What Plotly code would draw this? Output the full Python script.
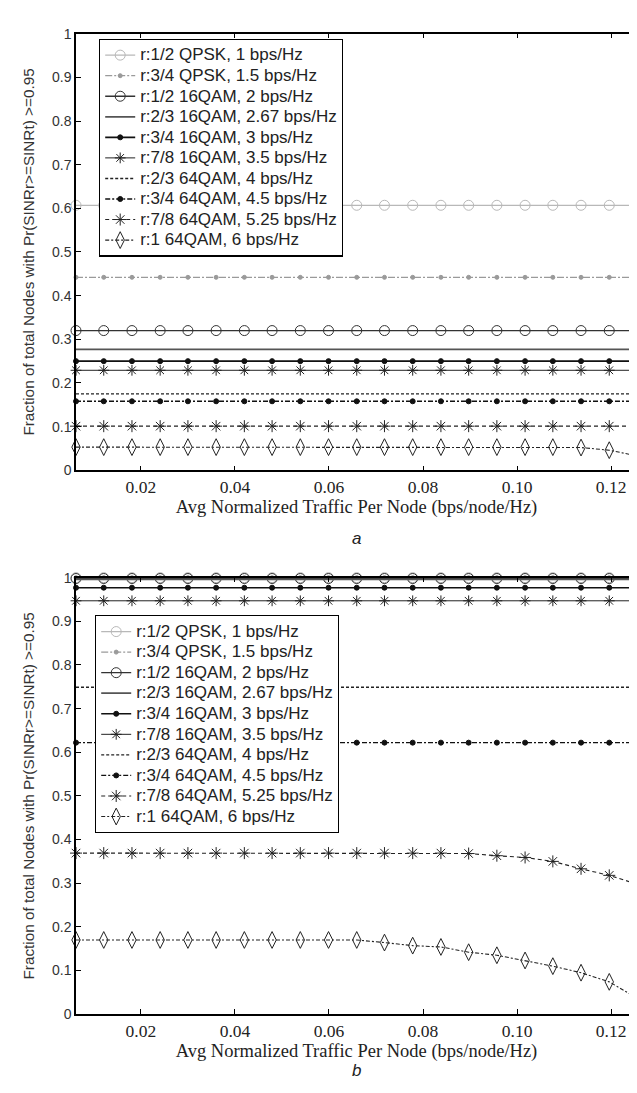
import plotly.graph_objects as go

# ---------------- data ----------------
traffic = [0.0062, 0.0121, 0.0181, 0.0241, 0.0300, 0.0360, 0.0420, 0.0479, 0.0539, 0.0599,
           0.0659, 0.0718, 0.0778, 0.0838, 0.0897, 0.0957, 0.1017, 0.1076, 0.1136, 0.1196, 0.1255]

names = ["r:1/2 QPSK, 1 bps/Hz", "r:3/4 QPSK, 1.5 bps/Hz", "r:1/2 16QAM, 2 bps/Hz",
         "r:2/3 16QAM, 2.67 bps/Hz", "r:3/4 16QAM, 3 bps/Hz", "r:7/8 16QAM, 3.5 bps/Hz",
         "r:2/3 64QAM, 4 bps/Hz", "r:3/4 64QAM, 4.5 bps/Hz", "r:7/8 64QAM, 5.25 bps/Hz",
         "r:1 64QAM, 6 bps/Hz"]

# panel a
a_qpsk_12 = [0.607, 0.607, 0.607, 0.607, 0.607, 0.607, 0.607, 0.607, 0.607, 0.607, 0.607,
             0.607, 0.607, 0.607, 0.607, 0.607, 0.607, 0.607, 0.607, 0.607, 0.607]
a_qpsk_34 = [0.442, 0.442, 0.442, 0.442, 0.442, 0.442, 0.442, 0.442, 0.442, 0.442, 0.442,
             0.442, 0.442, 0.442, 0.442, 0.442, 0.442, 0.442, 0.442, 0.442, 0.442]
a_16_12 = [0.320, 0.320, 0.320, 0.320, 0.320, 0.320, 0.320, 0.320, 0.320, 0.320, 0.320,
           0.320, 0.320, 0.320, 0.320, 0.320, 0.320, 0.320, 0.320, 0.320, 0.320]
a_16_23 = [0.277, 0.277, 0.277, 0.277, 0.277, 0.277, 0.277, 0.277, 0.277, 0.277, 0.277,
           0.277, 0.277, 0.277, 0.277, 0.277, 0.277, 0.277, 0.277, 0.277, 0.277]
a_16_34 = [0.250, 0.250, 0.250, 0.250, 0.250, 0.250, 0.250, 0.250, 0.250, 0.250, 0.250,
           0.250, 0.250, 0.250, 0.250, 0.250, 0.250, 0.250, 0.250, 0.250, 0.250]
a_16_78 = [0.229, 0.229, 0.229, 0.229, 0.229, 0.229, 0.229, 0.229, 0.229, 0.229, 0.229,
           0.229, 0.229, 0.229, 0.229, 0.229, 0.229, 0.229, 0.229, 0.229, 0.229]
a_64_23 = [0.175, 0.175, 0.175, 0.175, 0.175, 0.175, 0.175, 0.175, 0.175, 0.175, 0.175,
           0.175, 0.175, 0.175, 0.175, 0.175, 0.175, 0.175, 0.175, 0.175, 0.175]
a_64_34 = [0.158, 0.158, 0.158, 0.158, 0.158, 0.158, 0.158, 0.158, 0.158, 0.158, 0.158,
           0.158, 0.158, 0.158, 0.158, 0.158, 0.158, 0.158, 0.158, 0.158, 0.158]
a_64_78 = [0.101, 0.101, 0.101, 0.101, 0.101, 0.101, 0.101, 0.101, 0.101, 0.101, 0.101,
           0.101, 0.101, 0.101, 0.101, 0.101, 0.101, 0.101, 0.101, 0.101, 0.101]
a_64_1 = [0.053, 0.053, 0.053, 0.053, 0.053, 0.053, 0.053, 0.053, 0.053, 0.053, 0.053,
          0.053, 0.053, 0.053, 0.053, 0.053, 0.053, 0.053, 0.052, 0.046, 0.033]

# panel b
b_qpsk_12 = [1.0, 1.0, 1.0, 1.0, 1.0, 1.0, 1.0, 1.0, 1.0, 1.0, 1.0,
             1.0, 1.0, 1.0, 1.0, 1.0, 1.0, 1.0, 1.0, 1.0, 1.0]
b_qpsk_34 = [1.0, 1.0, 1.0, 1.0, 1.0, 1.0, 1.0, 1.0, 1.0, 1.0, 1.0,
             1.0, 1.0, 1.0, 1.0, 1.0, 1.0, 1.0, 1.0, 1.0, 1.0]
b_16_12 = [0.998, 0.998, 0.998, 0.998, 0.998, 0.998, 0.998, 0.998, 0.998, 0.998, 0.998,
           0.998, 0.998, 0.998, 0.998, 0.998, 0.998, 0.998, 0.998, 0.998, 0.998]
b_16_23 = [0.996, 0.996, 0.996, 0.996, 0.996, 0.996, 0.996, 0.996, 0.996, 0.996, 0.996,
           0.996, 0.996, 0.996, 0.996, 0.996, 0.996, 0.996, 0.996, 0.996, 0.996]
b_16_34 = [0.977, 0.977, 0.977, 0.977, 0.977, 0.977, 0.977, 0.977, 0.977, 0.977, 0.977,
           0.977, 0.977, 0.977, 0.977, 0.977, 0.977, 0.977, 0.977, 0.977, 0.977]
b_16_78 = [0.947, 0.947, 0.947, 0.947, 0.947, 0.947, 0.947, 0.947, 0.947, 0.947, 0.947,
           0.947, 0.947, 0.947, 0.947, 0.947, 0.947, 0.947, 0.947, 0.947, 0.947]
b_64_23 = [0.749, 0.749, 0.749, 0.749, 0.749, 0.749, 0.749, 0.749, 0.749, 0.749, 0.749,
           0.749, 0.749, 0.749, 0.749, 0.749, 0.749, 0.749, 0.749, 0.749, 0.749]
b_64_34 = [0.622, 0.622, 0.622, 0.622, 0.622, 0.622, 0.622, 0.622, 0.622, 0.622, 0.622,
           0.622, 0.622, 0.622, 0.622, 0.622, 0.622, 0.622, 0.622, 0.622, 0.622]
b_64_78 = [0.369, 0.369, 0.369, 0.369, 0.369, 0.369, 0.369, 0.369, 0.369, 0.369, 0.369,
           0.369, 0.369, 0.369, 0.368, 0.363, 0.359, 0.350, 0.333, 0.318, 0.298]
b_64_1 = [0.170, 0.170, 0.170, 0.170, 0.170, 0.170, 0.170, 0.170, 0.170, 0.170, 0.170,
          0.164, 0.157, 0.154, 0.142, 0.135, 0.123, 0.110, 0.095, 0.074, 0.037]

x_ticks = [0.02, 0.04, 0.06, 0.08, 0.10, 0.12]
x_ticklabels = ["0.02", "0.04", "0.06", "0.08", "0.10", "0.12"]
y_ticks = [0, 0.1, 0.2, 0.3, 0.4, 0.5, 0.6, 0.7, 0.8, 0.9, 1]
y_ticklabels = ["0", "0.1", "0.2", "0.3", "0.4", "0.5", "0.6", "0.7", "0.8", "0.9", "1"]

panel_a = [a_qpsk_12, a_qpsk_34, a_16_12, a_16_23, a_16_34, a_16_78, a_64_23, a_64_34, a_64_78, a_64_1]
panel_b = [b_qpsk_12, b_qpsk_34, b_16_12, b_16_23, b_16_34, b_16_78, b_64_23, b_64_34, b_64_78, b_64_1]

# ---------------- styles ----------------
styles = [
    dict(color="#b8b8b8", dash="solid", width=1.2, symbol="circle-open", size=10),
    dict(color="#9a9a9a", dash="7px,2px,2px,2px", width=1.2, symbol="circle", size=4),
    dict(color="#333333", dash="solid", width=1.3, symbol="circle-open", size=10),
    dict(color="#555555", dash="solid", width=1.8, symbol=None, size=0),
    dict(color="#111111", dash="solid", width=1.6, symbol="circle", size=5),
    dict(color="#222222", dash="solid", width=1.0, symbol="asterisk-open", size=9),
    dict(color="#222222", dash="3px,2px", width=1.4, symbol=None, size=0),
    dict(color="#111111", dash="5px,2px,2px,2px", width=1.4, symbol="circle", size=5),
    dict(color="#222222", dash="4px,3px", width=1.1, symbol="asterisk-open", size=10),
    dict(color="#222222", dash="4px,2px,2px,2px", width=1.1, symbol="diamond-tall-open", size=12),
]

fig = go.Figure()

LEG_SPAN = '<span style="font-size:17px">{}</span>'

def add_panel(values, xa, ya, legend):
    for name, ys, st in zip(names, values, styles):
        mode = "lines+markers" if st["symbol"] else "lines"
        marker = dict(symbol=st["symbol"], size=st["size"], color=st["color"],
                      line=dict(color=st["color"], width=1)) if st["symbol"] else None
        fig.add_trace(go.Scatter(
            x=traffic, y=ys, name=LEG_SPAN.format(name), mode=mode, xaxis=xa, yaxis=ya,
            legend=legend,
            line=dict(color=st["color"], dash=st["dash"], width=st["width"]),
            marker=marker, cliponaxis=False))

add_panel(panel_a, "x", "y", "legend")
add_panel(panel_b, "x2", "y2", "legend2")

W, H = 637, 1093
x0, x1 = 68, 629
top_a, bot_a = 18, 461
top_b, bot_b = 570, 1013

def px(v):
    return v / W

def py(v):
    return 1 - v / H

axis_common = dict(showline=True, linecolor="black", linewidth=1.5, mirror="ticks",
                   ticks="inside", ticklen=5, tickwidth=1.2, tickcolor="black",
                   showgrid=False, zeroline=False)

xa = dict(axis_common, range=[0.0062, 0.1255], tickvals=x_ticks, ticktext=x_ticklabels,
          tickfont=dict(family="Liberation Serif", size=17.5, color="#222"))
ya = dict(axis_common, range=[0, 1], tickvals=y_ticks, ticktext=y_ticklabels,
          tickfont=dict(family="Liberation Sans", size=14, color="#333"))

ytitle = "Fraction of total Nodes with Pr(SINRr>=SINRt) >=0.95"
xtitle = "Avg Normalized Traffic Per Node (bps/node/Hz)"
xt_font = dict(family="Liberation Serif", size=18.5, color="#222")
yt_font = dict(family="Liberation Sans", size=15.3, color="#333")
leg_font = dict(family="Liberation Sans", size=13.5, color="#222")

fig.update_layout(
    width=W, height=H, margin=dict(l=0, r=0, t=0, b=0),
    paper_bgcolor="white", plot_bgcolor="white",
    xaxis=dict(xa, domain=[px(x0), px(x1)], anchor="y",
               title=dict(text=xtitle, font=xt_font, standoff=4)),
    yaxis=dict(ya, domain=[py(bot_a), py(top_a)], anchor="x",
               title=dict(text=ytitle, font=yt_font, standoff=14)),
    xaxis2=dict(xa, domain=[px(x0), px(x1)], anchor="y2",
                title=dict(text=xtitle, font=xt_font, standoff=4)),
    yaxis2=dict(ya, domain=[py(bot_b), py(top_b)], anchor="x2",
                title=dict(text=ytitle, font=yt_font, standoff=14)),
    legend=dict(x=px(91), y=py(23), xanchor="left", yanchor="top", bgcolor="white",
                bordercolor="black", borderwidth=1.2, font=leg_font),
    legend2=dict(x=px(87), y=py(608), xanchor="left", yanchor="top", bgcolor="white",
                 bordercolor="black", borderwidth=1.2, font=leg_font),
    annotations=[
        dict(text="<i>a</i>", x=0.5 * (px(x0) + px(x1)), y=py(530), xref="paper", yref="paper",
             showarrow=False, font=dict(family="Liberation Sans", size=17, color="#222")),
        dict(text="<i>b</i>", x=0.5 * (px(x0) + px(x1)), y=py(1082), xref="paper", yref="paper",
             showarrow=False, font=dict(family="Liberation Sans", size=17, color="#222")),
    ],
)

fig.write_html("out.html")
